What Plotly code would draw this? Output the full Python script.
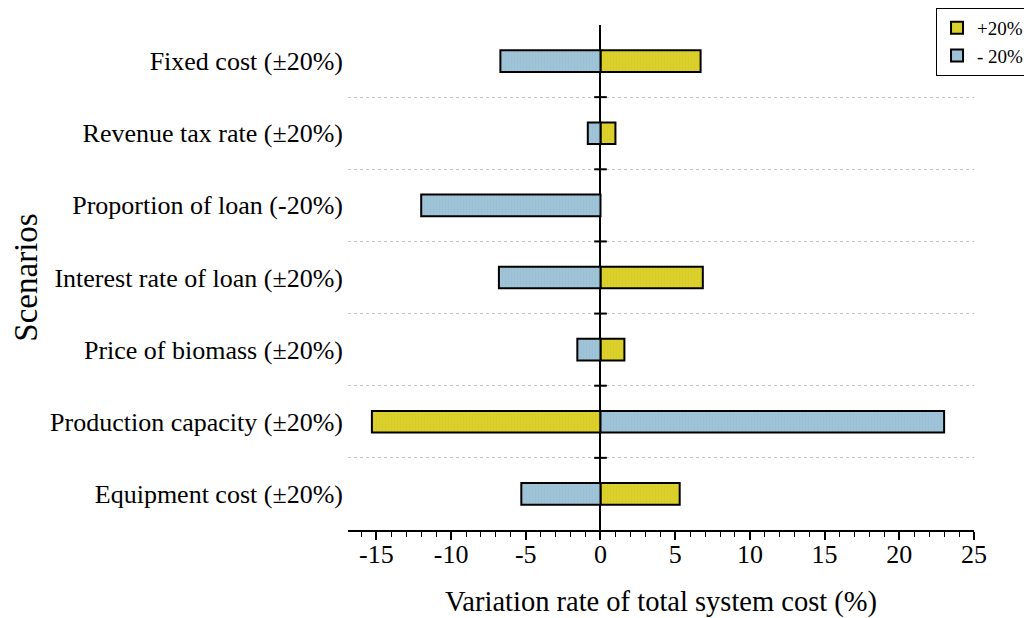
import plotly.graph_objects as go

# Categories listed bottom -> top
categories = [
    "Equipment cost (±20%)",
    "Production capacity (±20%)",
    "Price of biomass (±20%)",
    "Interest rate of loan (±20%)",
    "Proportion of loan (-20%)",
    "Revenue tax rate (±20%)",
    "Fixed cost (±20%)",
]
plus20 = [5.3, -15.3, 1.6, 6.85, None, 1.0, 6.7]
minus20 = [-5.3, 23.0, -1.55, -6.8, -12.0, -0.85, -6.7]
x_ticks = [-15, -10, -5, 0, 5, 10, 15, 20, 25]

FONT = "Liberation Serif, Times New Roman, serif"
YELLOW = "#dcd12c"
BLUE = "#9fc4d8"

ypos = list(range(len(categories)))
boundaries = [i + 0.5 for i in range(len(categories) - 1)]

fig = go.Figure()
fig.add_trace(go.Bar(
    name="+20%", y=ypos, x=plus20, orientation="h", width=0.3,
    marker=dict(color=YELLOW, line=dict(color="black", width=2),
                pattern=dict(shape="|", size=3, solidity=0.15, fgcolor="#c8bd20")),
))
fig.add_trace(go.Bar(
    name="- 20%", y=ypos, x=minus20, orientation="h", width=0.3,
    marker=dict(color=BLUE, line=dict(color="black", width=2),
                pattern=dict(shape="|", size=3, solidity=0.15, fgcolor="#8db4c8")),
))
# ticks on the zero axis at category boundaries
fig.add_trace(go.Scatter(
    x=[0] * len(boundaries), y=boundaries, mode="markers", showlegend=False,
    hoverinfo="skip",
    marker=dict(symbol="line-ew", size=9, line=dict(color="black", width=2)),
))

fig.update_layout(
    width=1024, height=610,
    paper_bgcolor="white", plot_bgcolor="white",
    margin=dict(l=340, r=58, t=17, b=88, autoexpand=False),
    barmode="overlay",
    font=dict(family=FONT, color="black"),
    legend=dict(
        x=1.0895, y=1.0337, xanchor="right", yanchor="top",
        bordercolor="black", borderwidth=1, bgcolor="white",
        font=dict(size=19, family=FONT), tracegroupgap=0, traceorder="normal",
        itemwidth=30,
    ),
    xaxis=dict(
        range=[-16.9, 25], tickvals=x_ticks, ticktext=[str(v) for v in x_ticks],
        showgrid=False, zeroline=True, zerolinecolor="black", zerolinewidth=2,
        showline=True, linecolor="black", linewidth=1.5,
        ticks="outside", ticklen=8, tickwidth=1.5, tickcolor="black",
        minor=dict(dtick=1, tick0=0, ticks="outside", ticklen=5, tickwidth=1, tickcolor="black"),
        tickfont=dict(size=26, family=FONT), ticklabelstandoff=-8,
        title=dict(text="Variation rate of total system cost (%)", font=dict(size=28.5, family=FONT), standoff=24),
    ),
    yaxis=dict(
        range=[-0.5, 6.5], tickvals=ypos, ticktext=categories,
        showgrid=False, zeroline=False, showline=False, ticks="",
        tickfont=dict(size=26, family=FONT), ticklabelstandoff=4,
        minor=dict(tickvals=boundaries, showgrid=True, gridcolor="#c8c8c8",
                   griddash="dot", gridwidth=1, ticks=""),
        title=dict(text="Scenarios", font=dict(size=33, family=FONT), standoff=6),
    ),
)

fig.write_html("out.html")
